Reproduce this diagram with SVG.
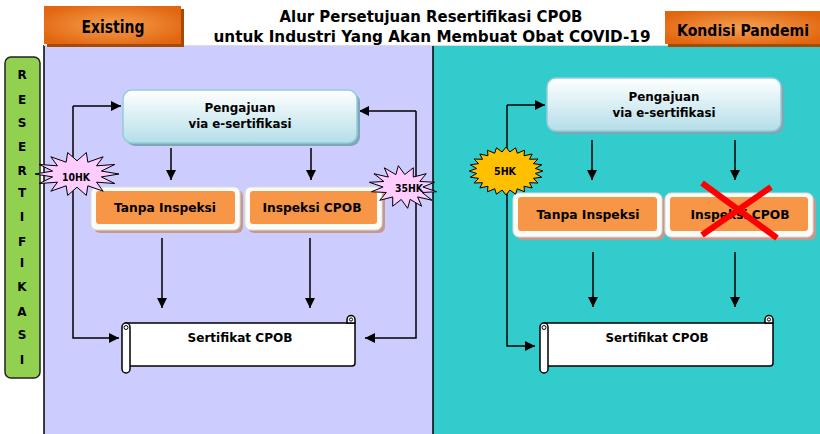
<svg xmlns="http://www.w3.org/2000/svg" width="820" height="434" viewBox="0 0 820 434">
<style>
text{font-family:"DejaVu Sans","Liberation Sans",sans-serif;font-weight:bold;fill:#000;text-anchor:middle}
.ar{fill:none;stroke:#000;stroke-width:1.5;marker-end:url(#ah)}
.frame{fill:#FBFBF7;stroke:#DADADA;stroke-width:1}
.fsh{fill:#C49A8E}
.inner{fill:#F79646}
.peng{fill:url(#gb);stroke:#92CDDC;stroke-width:1.5}
.psh{fill:#7FA8B4}
.scroll{fill:#fff;stroke:#000;stroke-width:1.5}
.t13{font-size:13px}
.nss{vector-effect:non-scaling-stroke;stroke:#000;stroke-width:1}
</style>
<defs>
<marker id="ah" markerUnits="userSpaceOnUse" markerWidth="10" markerHeight="10" refX="10" refY="5" orient="auto" viewBox="0 0 10 10">
<path d="M0,0 L10,5 L0,10 z" fill="#000"/>
</marker>
<linearGradient id="gb" x1="0" y1="0" x2="0" y2="1">
<stop offset="0" stop-color="#FFFFFF"/>
<stop offset="1" stop-color="#B4DEE8"/>
</linearGradient>
<radialGradient id="go" cx="0.5" cy="0.5" r="0.6">
<stop offset="0" stop-color="#F5A050"/>
<stop offset="1" stop-color="#E2650F"/>
</radialGradient>
<polygon id="star14" class="nss" points="1,0 .58,.133 .901,.434 .465,.371 .623,.782 .258,.536 .223,.975 0,.6 -.223,.975 -.258,.536 -.623,.782 -.465,.371 -.901,.434 -.58,.133 -1,0 -.58,-.133 -.901,-.434 -.465,-.371 -.623,-.782 -.258,-.536 -.223,-.975 0,-.6 .223,-.975 .258,-.536 .623,-.782 .465,-.371 .901,-.434 .58,-.133"/>
<polygon id="star24" class="nss" points="1,0 .793,.104 .966,.259 .739,.306 .866,.5 .635,.487 .707,.707 .487,.635 .5,.866 .306,.739 .259,.966 .104,.793 0,1 -.104,.793 -.259,.966 -.306,.739 -.5,.866 -.487,.635 -.707,.707 -.635,.487 -.866,.5 -.739,.306 -.966,.259 -.793,.104 -1,0 -.793,-.104 -.966,-.259 -.739,-.306 -.866,-.5 -.635,-.487 -.707,-.707 -.487,-.635 -.5,-.866 -.306,-.739 -.259,-.966 -.104,-.793 0,-1 .104,-.793 .259,-.966 .306,-.739 .5,-.866 .487,-.635 .707,-.707 .635,-.487 .866,-.5 .739,-.306 .966,-.259 .793,-.104"/>
</defs>

<rect width="820" height="434" fill="#fff"/>
<g id="panel-existing">
<rect x="44" y="45" width="389" height="389" fill="#CCCCFF"/>
<line x1="44" y1="45" x2="44" y2="434" stroke="#000" stroke-width="1.5"/>
</g>
<g id="panel-pandemi">
<rect x="433" y="45" width="387" height="389" fill="#33CCCC"/>
<line x1="433" y1="45" x2="433" y2="434" stroke="#000" stroke-width="1.5"/>
</g>
<line x1="44" y1="45.5" x2="820" y2="45.5" stroke="#DDDDDD" stroke-width="1"/>

<g id="hdr-existing">
<rect x="47" y="9" width="137" height="38" fill="#A64B05"/>
<rect x="44" y="6" width="137" height="38" fill="url(#go)"/>
<text x="113" y="33" font-size="18" textLength="63" lengthAdjust="spacingAndGlyphs">Existing</text>
</g>
<g id="title">
<text x="431" y="22" font-size="15" textLength="303" lengthAdjust="spacingAndGlyphs">Alur Persetujuan Resertifikasi CPOB</text>
<text x="432" y="42" font-size="15" textLength="437" lengthAdjust="spacingAndGlyphs">untuk Industri Yang Akan Membuat Obat COVID-19</text>
</g>
<g id="hdr-pandemi">
<rect x="668" y="14" width="152" height="33" fill="#A64B05"/>
<rect x="665" y="11" width="155" height="33" fill="url(#go)"/>
<text x="743" y="36" font-size="16" textLength="132" lengthAdjust="spacingAndGlyphs">Kondisi Pandemi</text>
</g>

<g id="resertifikasi">
<rect x="5" y="57" width="35" height="321" rx="6" fill="#92D050" stroke="#222" stroke-width="1.5"/>
<g font-size="12">
<text x="22" y="79">R</text>
<text x="22" y="104">E</text>
<text x="22" y="127">S</text>
<text x="22" y="151">E</text>
<text x="22" y="175">R</text>
<text x="22" y="197">T</text>
<text x="22" y="221">I</text>
<text x="22" y="246">F</text>
<text x="22" y="267">I</text>
<text x="22" y="291">K</text>
<text x="22" y="316">A</text>
<text x="22" y="339">S</text>
<text x="22" y="364">I</text>
</g>
</g>

<g id="connectors">
<path class="ar" d="M73,106 H121"/>
<path class="ar" d="M73,106 V338 H119"/>
<path class="ar" d="M416,111 H359"/>
<path class="ar" d="M416,111 V338 H365"/>
<path class="ar" d="M171,148 V180"/>
<path class="ar" d="M311,148 V180"/>
<path class="ar" d="M162,238 V308"/>
<path class="ar" d="M310,238 V308"/>
<path class="ar" d="M507,105 H545"/>
<path class="ar" d="M507,105 V346 H535"/>
<path class="ar" d="M592,140 V180"/>
<path class="ar" d="M735,140 V180"/>
<path class="ar" d="M593,252 V307"/>
<path class="ar" d="M735,252 V307"/>
</g>

<g id="peng-left">
<rect x="126" y="93" width="234" height="53" rx="9" class="psh"/>
<rect x="123" y="90" width="234" height="53" rx="9" class="peng"/>
<text x="240" y="112" class="t13" textLength="71" lengthAdjust="spacingAndGlyphs">Pengajuan</text>
<text x="240" y="128" class="t13" textLength="103" lengthAdjust="spacingAndGlyphs">via e-sertifikasi</text>
</g>
<g id="tanpa-left">
<rect x="94" y="190" width="149" height="43" rx="6" class="fsh"/>
<rect x="91" y="187" width="149" height="43" rx="6" class="frame"/>
<rect x="96" y="191" width="139" height="33" rx="3" class="inner"/>
<text x="165" y="212" class="t13" textLength="102" lengthAdjust="spacingAndGlyphs">Tanpa Inspeksi</text>
</g>
<g id="inspeksi-left">
<rect x="248" y="190" width="137" height="43" rx="6" class="fsh"/>
<rect x="245" y="187" width="137" height="43" rx="6" class="frame"/>
<rect x="250" y="191" width="127" height="33" rx="3" class="inner"/>
<text x="312" y="212" class="t13" textLength="99" lengthAdjust="spacingAndGlyphs">Inspeksi CPOB</text>
</g>
<g id="sertifikat-left">
<path class="scroll" d="M126,323 H355 V363 Q355,366 352,366 H126 Z"/>
<path class="scroll" d="M347,323 V319.5 A4,4 0 0 1 355,319.5 V323 Z"/>
<circle cx="351" cy="319.5" r="1.6" fill="#fff" stroke="#000" stroke-width="1"/>
<rect x="122" y="323" width="8" height="50" rx="4" class="scroll"/>
<circle cx="126" cy="327.5" r="2" fill="#fff" stroke="#000" stroke-width="1"/>
<text x="240" y="342" class="t13" textLength="105" lengthAdjust="spacingAndGlyphs">Sertifikat CPOB</text>
</g>
<g id="hk10">
<use href="#star14" fill="#FFCCFF" transform="translate(77,174) scale(42,22)"/>
<text x="76" y="181" font-size="11" textLength="28" lengthAdjust="spacingAndGlyphs">10HK</text>
</g>
<g id="hk35">
<use href="#star14" fill="#FFCCFF" transform="translate(403,187) rotate(8) scale(34,21)"/>
<text x="409" y="192" font-size="11" textLength="28" lengthAdjust="spacingAndGlyphs">35HK</text>
</g>

<g id="peng-right">
<rect x="550" y="81" width="234" height="53" rx="9" class="psh"/>
<rect x="547" y="78" width="234" height="53" rx="9" class="peng"/>
<text x="664" y="101" class="t13" textLength="71" lengthAdjust="spacingAndGlyphs">Pengajuan</text>
<text x="664" y="117" class="t13" textLength="103" lengthAdjust="spacingAndGlyphs">via e-sertifikasi</text>
</g>
<g id="tanpa-right">
<rect x="516" y="196" width="149" height="44" rx="6" class="fsh"/>
<rect x="513" y="193" width="149" height="44" rx="6" class="frame"/>
<rect x="518" y="197" width="139" height="34" rx="3" class="inner"/>
<text x="588" y="219" class="t13" textLength="103" lengthAdjust="spacingAndGlyphs">Tanpa Inspeksi</text>
</g>
<g id="inspeksi-right">
<rect x="668" y="196" width="148" height="44" rx="6" class="fsh"/>
<rect x="665" y="193" width="148" height="44" rx="6" class="frame"/>
<rect x="670" y="197" width="138" height="34" rx="3" class="inner"/>
<text x="740" y="219" class="t13" textLength="99" lengthAdjust="spacingAndGlyphs">Inspeksi CPOB</text>
<g stroke="#FF0000" stroke-width="6">
<line x1="702" y1="183" x2="777" y2="238"/>
<line x1="771" y1="187" x2="702" y2="235"/>
</g>
</g>
<g id="sertifikat-right" transform="translate(418,0)">
<path class="scroll" d="M126,323 H355 V363 Q355,366 352,366 H126 Z"/>
<path class="scroll" d="M347,323 V319.5 A4,4 0 0 1 355,319.5 V323 Z"/>
<circle cx="351" cy="319.5" r="1.6" fill="#fff" stroke="#000" stroke-width="1"/>
<rect x="122" y="323" width="8" height="50" rx="4" class="scroll"/>
<circle cx="126" cy="327.5" r="2" fill="#fff" stroke="#000" stroke-width="1"/>
<text x="239" y="342" class="t13" textLength="103" lengthAdjust="spacingAndGlyphs">Sertifikat CPOB</text>
</g>
<g id="hk5">
<use href="#star24" fill="#FFC000" transform="translate(506,171) scale(37,24)"/>
<text x="505" y="175" font-size="11" textLength="22" lengthAdjust="spacingAndGlyphs">5HK</text>
</g>
</svg>
